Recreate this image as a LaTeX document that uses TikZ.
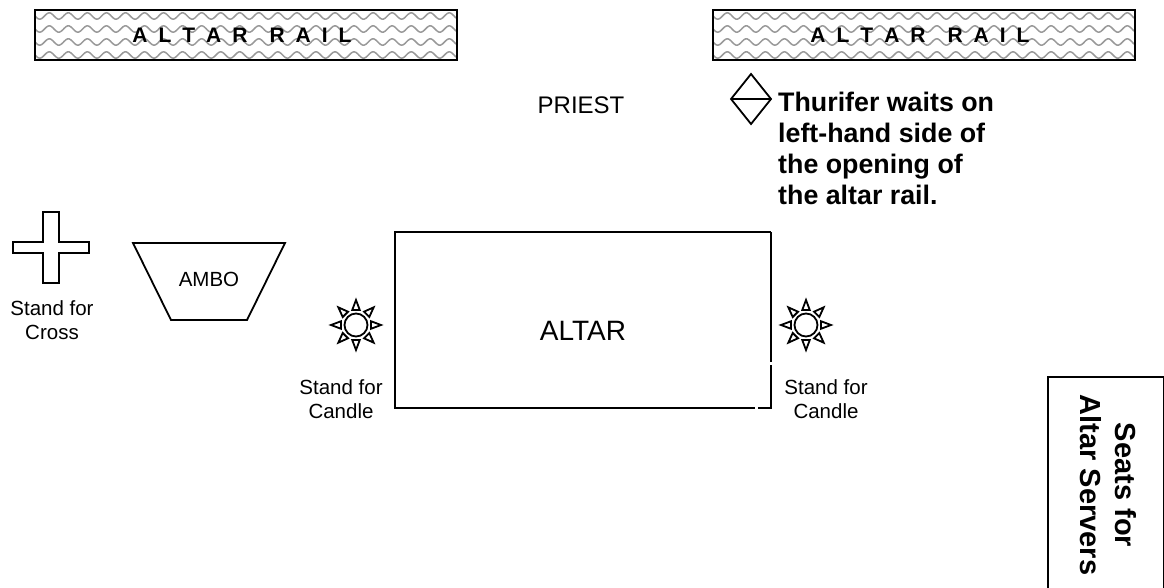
\documentclass[tikz,border=0pt]{standalone}
\usepackage{fontspec}
\setmainfont{Liberation Sans}
\newcommand{\railtext}{\hbox{\spaceskip=11pt\relax A L T A R~~R A I L}}
\tikzset{
  shape line/.style={line width=1.8pt,line join=miter,black},
  label small/.style={align=center,font=\fontsize{20.5}{24}\selectfont},
  label bold/.style={align=left,anchor=north west,font=\fontsize{26.8}{31.2}\selectfont\bfseries},
  rail text/.style={font=\fontsize{21}{24}\selectfont\bfseries},
  wave line/.style={line width=1.5pt,black!40}
}
\begin{document}
\begin{tikzpicture}[x=1pt,y=-1pt]
\useasboundingbox (0,0) rectangle (1164,588);
% altar rails
\foreach \xa in {35,713}{
\begin{scope}
\clip (\xa,10) rectangle (\xa+422,60);
\foreach \ya in {16,29,42,55}
\draw[wave line] plot[domain=0:422,samples=260] (\xa+\x,{\ya+3.2*sin(18.9*\x)});
\end{scope}
\draw[shape line] (\xa,10) rectangle (\xa+422,60);
}
\node[rail text] (railleft) at (242,35) {\railtext};
\node[rail text] (railright) at (920,35) {\railtext};
% priest and thurifer
\node[font=\fontsize{24}{28}\selectfont] (priest) at (581,105) {PRIEST};
\draw[shape line] (731,99) -- (751,74) -- (771,99) -- (751,124) -- cycle (731,99) -- (771,99);
\node[label bold,inner sep=0pt] (thurifer) at (778,91.5) {Thurifer waits on\\left-hand side of\\the opening of\\the altar rail.};
% stand for cross
\draw[shape line] (43,212) -- (59,212) -- (59,242) -- (89,242) -- (89,253) -- (59,253) -- (59,283)
-- (43,283) -- (43,253) -- (13,253) -- (13,242) -- (43,242) -- cycle;
\node[label small] (cross) at (52,320) {Stand for\\Cross};
% ambo
\draw[shape line] (133,243) -- (285,243) -- (247,320) -- (171,320) -- cycle;
\node[label small] (ambo) at (209,279) {AMBO};
% altar
\draw[shape line] (771,232) -- (395,232) -- (395,408) -- (755,408);
\draw[shape line] (771,232) -- (771,362);
\draw[shape line] (758,408) -- (771,408) -- (771,365);
\node[font=\fontsize{28}{32}\selectfont] (altar) at (583,331) {ALTAR};
% candles
\foreach \xa in {356,806}{
\draw[shape line] (\xa,325) circle (11.5);
\foreach \ang in {0,45,...,315}
\draw[shape line] ([shift={(\ang-14:15.5)}]\xa,325) -- ([shift={(\ang:25)}]\xa,325)
-- ([shift={(\ang+14:15.5)}]\xa,325) -- cycle;
}
\node[label small] (candleleft) at (341,399) {Stand for\\Candle};
\node[label small] (candleright) at (826,399) {Stand for\\Candle};
% seats
\draw[shape line] (1048,377) rectangle (1164,589);
\node[rotate=-90,align=center,font=\fontsize{29}{35}\selectfont\bfseries] (seats) at (1108,485) {Seats for\\Altar Servers};
\end{tikzpicture}
\end{document}
